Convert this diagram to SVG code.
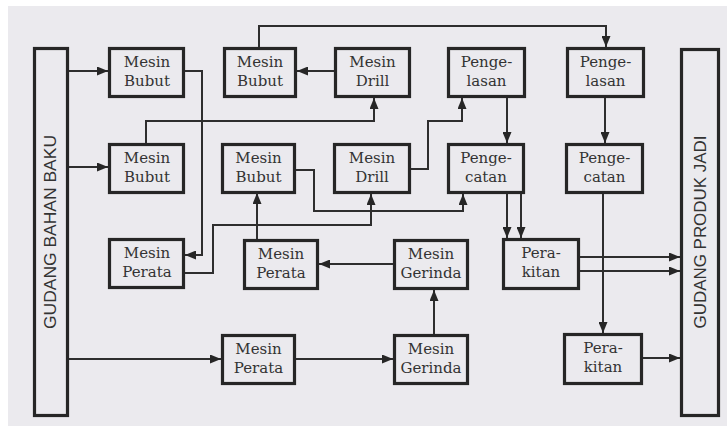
<svg xmlns="http://www.w3.org/2000/svg" width="727" height="428" viewBox="0 0 727 428">
<style>
.bg{fill:#ffffff}
.paper{fill:#ebeaee}
.box rect{fill:none;stroke:#262626;stroke-width:3.2}
.box text{font-family:"DejaVu Serif","Liberation Serif",serif;font-size:15px;fill:#333;text-anchor:middle}
.bar rect{fill:none;stroke:#262626;stroke-width:3.2}
.bar text{font-family:"Liberation Sans",Arial,sans-serif;font-size:17px;fill:#333;text-anchor:middle}
#connectors path{fill:none;stroke:#2e2e2e;stroke-width:2}
</style>
<defs>
<marker id="ah" markerUnits="userSpaceOnUse" markerWidth="12" markerHeight="9" refX="11" refY="4.5" orient="auto">
<path d="M0,0 L11,4.5 L0,9 z" fill="#262626"/>
</marker>
</defs>
<rect class="bg" x="0" y="0" width="727" height="428"/>
<rect class="paper" x="8" y="6" width="719" height="420"/>

<g id="gudang-bahan-baku" class="bar">
<rect x="34.5" y="48.5" width="33" height="367"/>
<text transform="translate(56,232) rotate(-90)" textLength="194" lengthAdjust="spacingAndGlyphs">GUDANG BAHAN BAKU</text>
</g>
<g id="gudang-produk-jadi" class="bar">
<rect x="681.5" y="49.5" width="37" height="366"/>
<text transform="translate(706,232) rotate(-90)" textLength="193" lengthAdjust="spacingAndGlyphs">GUDANG PRODUK JADI</text>
</g>

<g id="bubut1" class="box"><rect x="109.5" y="48.5" width="74" height="48"/><text x="147" y="67">Mesin</text><text x="147" y="86">Bubut</text></g>
<g id="bubut2" class="box"><rect x="109.5" y="144.5" width="74" height="48"/><text x="147" y="163">Mesin</text><text x="147" y="182">Bubut</text></g>
<g id="perata1" class="box"><rect x="109.5" y="239.5" width="74" height="48"/><text x="147" y="258">Mesin</text><text x="147" y="277">Perata</text></g>

<g id="bubut3" class="box"><rect x="224.5" y="48.5" width="71" height="48"/><text x="260" y="67">Mesin</text><text x="260" y="86">Bubut</text></g>
<g id="bubut4" class="box"><rect x="222.5" y="144.5" width="72" height="48"/><text x="258.5" y="163">Mesin</text><text x="258.5" y="182">Bubut</text></g>
<g id="perata2" class="box"><rect x="244.5" y="240.5" width="73" height="48"/><text x="281" y="259">Mesin</text><text x="281" y="278">Perata</text></g>
<g id="perata3" class="box"><rect x="222.5" y="335.5" width="72" height="48"/><text x="258.5" y="354">Mesin</text><text x="258.5" y="373">Perata</text></g>

<g id="drill1" class="box"><rect x="335.5" y="48.5" width="74" height="48"/><text x="372.5" y="67">Mesin</text><text x="372.5" y="86">Drill</text></g>
<g id="drill2" class="box"><rect x="334.5" y="144.5" width="75" height="48"/><text x="372" y="163">Mesin</text><text x="372" y="182">Drill</text></g>
<g id="gerinda1" class="box"><rect x="394.5" y="240.5" width="73" height="48"/><text x="431" y="259">Mesin</text><text x="431" y="278">Gerinda</text></g>
<g id="gerinda2" class="box"><rect x="394.5" y="335.5" width="73" height="48"/><text x="431" y="354">Mesin</text><text x="431" y="373">Gerinda</text></g>

<g id="pengelasan1" class="box"><rect x="448.5" y="48.5" width="76" height="48"/><text x="486.5" y="67">Penge-</text><text x="486.5" y="86">lasan</text></g>
<g id="pengecatan1" class="box"><rect x="448.5" y="144.5" width="75" height="48"/><text x="486" y="163">Penge-</text><text x="486" y="182">catan</text></g>
<g id="perakitan1" class="box"><rect x="503.5" y="239.5" width="75" height="49"/><text x="541" y="258">Pera-</text><text x="541" y="277">kitan</text></g>

<g id="pengelasan2" class="box"><rect x="567.5" y="48.5" width="76" height="48"/><text x="605.5" y="67">Penge-</text><text x="605.5" y="86">lasan</text></g>
<g id="pengecatan2" class="box"><rect x="566.5" y="144.5" width="76" height="48"/><text x="604.5" y="163">Penge-</text><text x="604.5" y="182">catan</text></g>
<g id="perakitan2" class="box"><rect x="564.5" y="334.5" width="77" height="49"/><text x="603" y="353">Pera-</text><text x="603" y="372">kitan</text></g>

<g id="connectors">
<path d="M69,71 H108" marker-end="url(#ah)"/>
<path d="M69,167 H108" marker-end="url(#ah)"/>
<path d="M69,359 H221" marker-end="url(#ah)"/>
<path d="M185,71 H202 V255 H185" marker-end="url(#ah)"/>
<path d="M185,273 H213 V225 H371 V194" marker-end="url(#ah)"/>
<path d="M146,143 V121 H374 V98" marker-end="url(#ah)"/>
<path d="M334,71 H297" marker-end="url(#ah)"/>
<path d="M259,47 V26 H606 V47" marker-end="url(#ah)"/>
<path d="M411,169 H428 V121 H462 V98" marker-end="url(#ah)"/>
<path d="M296,170 H314 V211 H463 V194" marker-end="url(#ah)"/>
<path d="M257,239 V193" marker-end="url(#ah)"/>
<path d="M393,264 H319" marker-end="url(#ah)"/>
<path d="M434,334 V290" marker-end="url(#ah)"/>
<path d="M296,359 H393" marker-end="url(#ah)"/>
<path d="M507,98 V143" marker-end="url(#ah)"/>
<path d="M605,98 V143" marker-end="url(#ah)"/>
<path d="M507,194 V238" marker-end="url(#ah)"/>
<path d="M521,194 V238" marker-end="url(#ah)"/>
<path d="M580,257 H680" marker-end="url(#ah)"/>
<path d="M580,271 H680" marker-end="url(#ah)"/>
<path d="M603,194 V333" marker-end="url(#ah)"/>
<path d="M643,358 H680" marker-end="url(#ah)"/>
</g>
</svg>
